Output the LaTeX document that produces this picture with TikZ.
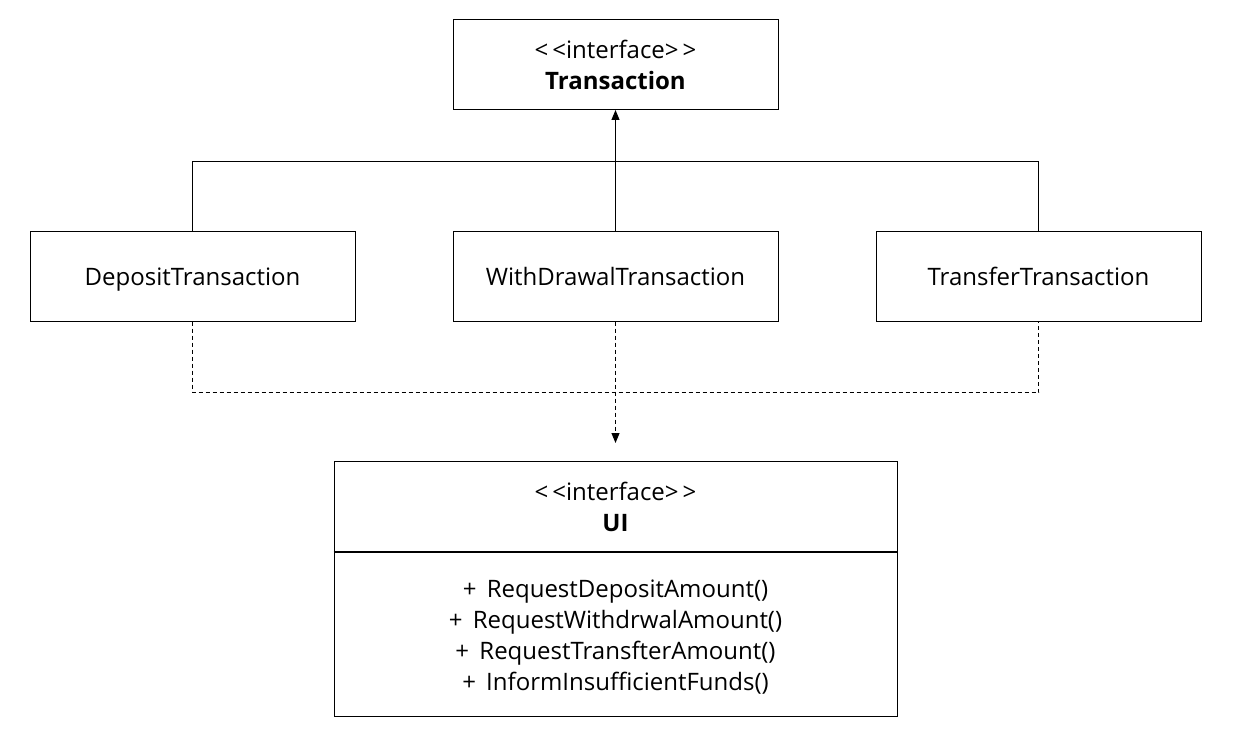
\documentclass[tikz,border=0pt]{standalone}
\usepackage{fontspec}
\setmainfont{Open Sans}
\usetikzlibrary{arrows.meta}
\newcommand{\stereo}{{<}\,{<}interface{>}\,{>}}
\newcommand{\mystrut}{\rule[-6pt]{0pt}{31pt}}
\begin{document}
\begin{tikzpicture}[x=1pt,y=-1pt,
  box/.style={draw=black,line width=1pt,minimum width=325pt,minimum height=90pt,inner sep=0pt,font=\fontsize{24}{31}\selectfont,align=center},
  link/.style={line width=1pt},
  dep/.style={line width=1pt,dash pattern=on 4pt off 3pt},
  tip/.style={-{Triangle[width=8pt,length=10pt]}}]
\useasboundingbox (0,0) rectangle (1239,730);
\fill[white] (0,0) rectangle (1239,730);
\node[box] (tr) at (615.5,64.5) {\mystrut\stereo\\\mystrut\textbf{Transaction}};
\node[box] (dp) at (192.5,276) {\mystrut DepositTransaction};
\node[box] (wd) at (615.5,276) {\mystrut WithDrawalTransaction};
\node[box] (tf) at (1038.5,276) {\mystrut TransferTransaction};
\node[box,minimum width=563pt] (uih) at (615.5,506) {\mystrut\stereo\\\mystrut\textbf{UI}};
\node[draw=black,line width=1pt,minimum width=563pt,minimum height=164pt,inner sep=0pt,anchor=north,font=\fontsize{24}{31}\selectfont,align=center] (uib) at (uih.south) {\mystrut+\, RequestDepositAmount()\\\mystrut+\, RequestWithdrwalAmount()\\\mystrut+\, RequestTransfterAmount()\\\mystrut+\, InformInsufficientFunds()};
\draw[line width=2pt] (uih.south west) -- (uih.south east);
\coordinate (top) at (615.5,161.5);
\coordinate (bot) at (615.5,392.5);
\coordinate (uiarrow) at (615.5,443);
\draw[link] (dp.north) |- (top) -| (tf.north);
\draw[link,tip] (wd.north) -- (tr.south);
\draw[dep] (dp.south) |- (bot) -| (tf.south);
\draw[dep,tip] (wd.south) -- (uiarrow);
\end{tikzpicture}
\end{document}
